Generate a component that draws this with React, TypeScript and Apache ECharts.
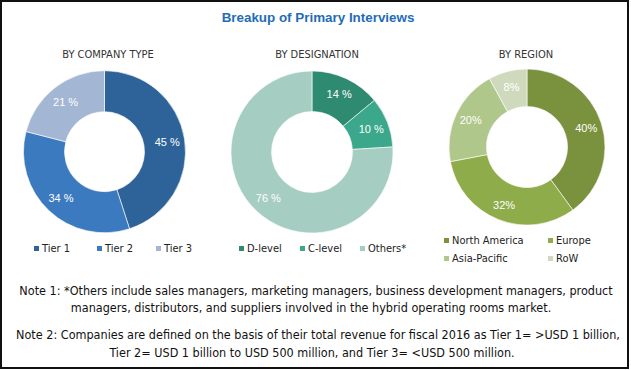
import React, { useEffect, useRef } from "react";
import * as echarts from "echarts";

const chartTitle = "Breakup of Primary Interviews";
const panelTitles = ["BY COMPANY TYPE", "BY DESIGNATION", "BY REGION"];

const companyNames = ["Tier 1", "Tier 2", "Tier 3"];
const companyValues = [45, 34, 21];
const companyColors = ["#2E6399", "#3C7ABF", "#A3B6D3"];

const designationNames = ["D-level", "C-level", "Others*"];
const designationValues = [14, 10, 76];
const designationColors = ["#2F8A72", "#3BA88B", "#A6CDC2"];

const regionNames = ["North America", "Europe", "Asia-Pacific", "RoW"];
const regionValues = [40, 32, 20, 8];
const regionColors = ["#7A913E", "#8EAC4A", "#AFC78A", "#CFDABD"];

const noteLines = [
  "Note 1: *Others include sales managers, marketing managers, business development managers, product",
  "managers, distributors, and suppliers involved in the hybrid operating rooms market.",
  "Note 2: Companies are defined on the basis of their total revenue for fiscal 2016 as Tier 1= >USD 1 billion,",
  "Tier 2= USD 1 billion to USD 500 million, and Tier 3= <USD 500 million.",
];

const NARROW = '"Liberation Sans Narrow", "DejaVu Sans Condensed", "Liberation Sans", Arial, sans-serif';

export default function App() {
  const ref = useRef<HTMLDivElement>(null);

  useEffect(() => {
    if (!ref.current) return;
    const chart = echarts.init(ref.current, undefined, { renderer: "svg" });

    const makePie = (
      names: string[],
      values: number[],
      colors: string[],
      center: [number, number],
      radius: [number, number],
      spaced: boolean
    ) => ({
      type: "pie",
      center,
      radius,
      startAngle: 90,
      clockwise: true,
      avoidLabelOverlap: false,
      data: names.map((n, i) => ({ name: n, value: values[i], itemStyle: { color: colors[i] } })),
      itemStyle: { borderColor: "#ffffff", borderWidth: 0.6 },
      label: {
        show: true,
        position: "inside",
        color: "#ffffff",
        fontSize: 11,
        fontFamily: '"Liberation Sans", Arial, sans-serif',
        formatter: (p: any) => (spaced ? `${p.value} %` : `${p.value}%`),
      },
      labelLine: { show: false },
      emphasis: { disabled: true },
    });

    const legendItem = (name: string, left: number, top: number) => ({
      data: [name],
      left,
      top,
      padding: 0,
      icon: "rect",
      itemWidth: 7,
      itemHeight: 7,
      itemGap: 5,
      selectedMode: false,
      textStyle: { fontSize: 11, color: "#222", fontFamily: NARROW, padding: [0, 0, 0, -3] },
    });

    const legends: any[] = [
      legendItem(companyNames[0], 32, 243),
      legendItem(companyNames[1], 95, 243),
      legendItem(companyNames[2], 154, 243),
      legendItem(designationNames[0], 237, 243),
      legendItem(designationNames[1], 298, 243),
      legendItem(designationNames[2], 358, 243),
      legendItem(regionNames[0], 442, 235),
      legendItem(regionNames[1], 546, 235),
      legendItem(regionNames[2], 442, 253),
      legendItem(regionNames[3], 546, 253),
    ];

    const noteYs = [290, 307, 334, 352];
    const noteXs = [316, 311, 318, 312];

    const sub = (text: string, x: number) => ({
      text,
      left: x,
      top: 49,
      padding: 0,
      textAlign: "center",
      textStyle: { color: "#333", fontSize: 11, fontWeight: "normal", fontFamily: NARROW },
    });

    chart.setOption({
      animation: false,
      backgroundColor: "#ffffff",
      title: [
        {
          text: chartTitle,
          left: 318,
          top: 11,
          padding: 0,
          textAlign: "center",
          textStyle: { color: "#1F6DB5", fontSize: 13.4, fontWeight: "bold", fontFamily: '"Liberation Sans", Arial, sans-serif' },
        },
        sub(panelTitles[0], 108),
        sub(panelTitles[1], 317),
        sub(panelTitles[2], 526),
      ],
      legend: legends,
      series: [
        makePie(companyNames, companyValues, companyColors, [104.5, 151.7], [40, 81], true),
        makePie(designationNames, designationValues, designationColors, [312, 152], [40.5, 81], true),
        makePie(regionNames, regionValues, regionColors, [527, 147], [40.5, 78], false),
      ],
      graphic: [
        {
          type: "rect",
          shape: { x: 1, y: 1, width: 627, height: 367 },
          style: { fill: "none", stroke: "#111", lineWidth: 2 },
          silent: true,
        },
        ...noteLines.map((t, i) => ({
          type: "text",
          x: noteXs[i],
          y: noteYs[i],
          style: {
            text: t,
            fill: "#111",
            fontSize: 12.5,
            fontFamily: NARROW,
            textAlign: "center",
            textVerticalAlign: "middle",
          },
          silent: true,
        })),
      ],
    });

    return () => chart.dispose();
  }, []);

  return (
    <div
      ref={ref}
      style={{ position: "fixed", left: 0, top: 0, width: 631, height: 370, background: "#fff" }}
    />
  );
}
